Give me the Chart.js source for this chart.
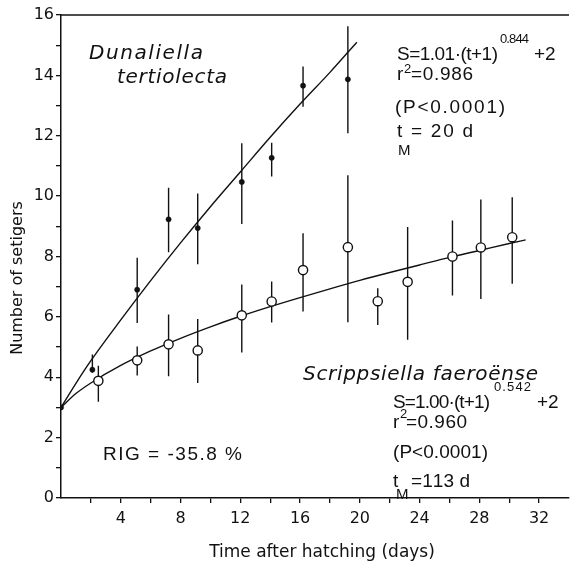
<!DOCTYPE html>
<html>
<head>
<meta charset="utf-8">
<script src="https://cdn.jsdelivr.net/npm/chart.js@4/dist/chart.umd.min.js"></script>
<style>
html,body{margin:0;padding:0;background:#fff;}
#wrap{width:575px;height:570px;}
</style>
</head>
<body>
<div id="wrap"><canvas id="c" width="575" height="570"></canvas></div>
<script>
// ---- Data ----
// Dunaliella tertiolecta (filled dots)
const dunDays  = [0, 2.1, 5.1, 7.2, 9.15, 12.1, 14.1, 16.2, 19.2];
const dunMean  = [3.0, 4.25, 6.9, 9.23, 8.94, 10.47, 11.27, 13.66, 13.87];
const dunLow   = [null, 4.15, 5.8, 8.14, 7.74, 9.08, 10.65, 12.96, 12.08];
const dunHigh  = [null, 4.75, 7.96, 10.28, 10.09, 11.75, 11.77, 14.29, 15.63];
// Scrippsiella faeroense (open circles)
const scrDays  = [2.5, 5.1, 7.2, 9.15, 12.1, 14.1, 16.2, 19.2, 21.2, 23.2, 26.2, 28.1, 30.2];
const scrMean  = [3.88, 4.56, 5.09, 4.89, 6.05, 6.51, 7.55, 8.31, 6.52, 7.16, 8.0, 8.30, 8.64];
const scrLow   = [3.19, 4.06, 4.03, 3.81, 4.82, 5.81, 6.18, 5.82, 5.73, 5.24, 6.71, 6.59, 7.1];
const scrHigh  = [4.38, 5.02, 6.08, 5.93, 7.07, 7.17, 8.77, 10.69, 6.95, 8.98, 9.19, 9.89, 9.96];
// Fitted curves
const dunFitDays = [0, 1, 2, 4, 6, 8, 10, 12, 14, 16, 18, 19.8];
const dunFitVals = [3.0, 3.8, 4.55, 5.9, 7.2, 8.45, 9.65, 10.8, 11.95, 13.05, 14.1, 15.1];
const scrFitDays = [0, 1, 2, 4, 6, 8, 10, 12, 14, 16, 18, 20, 22, 24, 26, 28, 30, 31.1];
const scrFitVals = [3.0, 3.46, 3.81, 4.39, 4.87, 5.29, 5.67, 6.02, 6.34, 6.64, 6.93, 7.21, 7.47, 7.72, 7.97, 8.2, 8.43, 8.55];
// Axis ticks
const xTickLabels = [4, 8, 12, 16, 20, 24, 28, 32];
const yTickLabels = [0, 2, 4, 6, 8, 10, 12, 14, 16];

// ---- helpers ----
function pts(xs, ys){ return xs.map((x,i)=>({x:x, y:ys[i]})); }
function errSegs(xs, lo, hi){
  const out = [];
  xs.forEach((x,i)=>{
    if (lo[i]==null || hi[i]==null) return;
    out.push({x:x, y:lo[i]}, {x:x, y:hi[i]}, {x:x, y:null});
  });
  return out;
}
function fitText(ctx, text, font, x, y, w){
  ctx.font = font;
  const chars = [...text];
  const ws = chars.map(c=>ctx.measureText(c).width);
  const tot = ws.reduce((s,v)=>s+v,0);
  const gap = (w && chars.length>1) ? (w - tot)/(chars.length-1) : 0;
  let cx = x;
  chars.forEach((c,i)=>{ ctx.fillText(c, cx, y); cx += ws[i] + gap; });
}

const EQ = '19px "Liberation Sans"';
const SUP = '13px "Liberation Sans"';
const SUB = '15px "Liberation Sans"';
const IT = 'italic 20px "DejaVu Sans"';
const texts = [
  ['Dunaliella', IT, 89, 59, 114],
  ['tertiolecta', IT, 117, 83, 110],
  ['S=1.01·(t+1)', EQ, 397, 60, 101],
  ['0.844', SUP, 500, 43, 29],
  ['+2', EQ, 534, 60, 0],
  ['r', EQ, 397, 80, 0],
  ['2', SUP, 404, 73, 0],
  ['=0.986', EQ, 411, 80, 62],
  ['(P<0.0001)', EQ, 395, 113, 110],
  ['t', EQ, 397, 137, 0],
  ['M', SUB, 398, 155, 12],
  ['= 20 d', EQ, 411, 137, 62],
  ['Scrippsiella faeroënse', IT, 303, 380, 235],
  ['S=1.00·(t+1)', EQ, 393, 408, 97],
  ['0.542', SUP, 494, 391, 37],
  ['+2', EQ, 537, 408, 0],
  ['r', EQ, 393, 428, 0],
  ['2', SUP, 400, 418, 0],
  ['=0.960', EQ, 406, 428, 61],
  ['(P<0.0001)', EQ, 393, 458, 95],
  ['t', EQ, 393, 487, 0],
  ['M', SUB, 396, 499, 14],
  ['=113 d', EQ, 411, 487, 59],
  ['RIG = -35.8 %', EQ, 103, 460, 139]
];

const annot = {
  id: 'annot',
  afterDraw(chart){
    const {ctx, chartArea:a} = chart;
    ctx.save();
    ctx.strokeStyle = '#111';
    ctx.lineWidth = 1.5;
    ctx.beginPath(); ctx.moveTo(a.left, a.top); ctx.lineTo(a.right, a.top); ctx.stroke();
    ctx.fillStyle = '#111';
    ctx.textAlign = 'left';
    ctx.textBaseline = 'alphabetic';
    texts.forEach(t=>fitText(ctx, t[0], t[1], t[2], t[3], t[4]));
    // axis titles
    ctx.textAlign = 'center';
    ctx.textBaseline = 'middle';
    ctx.font = '17px "DejaVu Sans"';
    ctx.fillText('Time after hatching (days)', 322, 553);
    ctx.save();
    ctx.translate(18, 278);
    ctx.rotate(-Math.PI/2);
    ctx.font = '16px "DejaVu Sans"';
    ctx.fillText('Number of setigers', 0, 0);
    ctx.restore();
    ctx.restore();
  }
};

const black = '#111';
new Chart(document.getElementById('c'), {
  type: 'scatter',
  data: {
    datasets: [
      { label:'Dunaliella', data: pts(dunDays, dunMean), pointRadius: 2.6, pointBackgroundColor: black,
        pointBorderColor: black, pointBorderWidth: 0.5, showLine:false, order: 1 },
      { label:'Scrippsiella', data: pts(scrDays, scrMean), pointRadius: 4.6, pointBackgroundColor: '#fff',
        pointBorderColor: black, pointBorderWidth: 1.4, showLine:false, order: 2 },
      { label:'Dun fit', data: pts(dunFitDays, dunFitVals), showLine:true, pointRadius:0, borderColor: black,
        borderWidth: 1.4, cubicInterpolationMode:'monotone', order: 3 },
      { label:'Scr fit', data: pts(scrFitDays, scrFitVals), showLine:true, pointRadius:0, borderColor: black,
        borderWidth: 1.4, cubicInterpolationMode:'monotone', order: 4 },
      { label:'Dun err', data: errSegs(dunDays, dunLow, dunHigh), showLine:true, spanGaps:false, pointRadius:0,
        borderColor: black, borderWidth: 1.4, order: 5 },
      { label:'Scr err', data: errSegs(scrDays, scrLow, scrHigh), showLine:true, spanGaps:false, pointRadius:0,
        borderColor: black, borderWidth: 1.4, order: 6 }
    ]
  },
  options: {
    responsive: false,
    animation: false,
    devicePixelRatio: 1,
    layout: { padding: { top: 15, right: 0, left: 0, bottom: 0 } },
    plugins: { legend: { display:false }, tooltip: { enabled:false } },
    scales: {
      x: {
        type:'linear', min:0, max:34,
        afterFit(s){ s.height = 72; },
        border: { display:true, color: black, width: 1.5 },
        grid: { drawOnChartArea:false, drawTicks:true, tickLength:5, lineWidth:1.3,
          color: c => (c.tick && (c.tick.value === 0 || c.tick.value === 34)) ? 'rgba(0,0,0,0)' : black },
        ticks: { stepSize: 2, autoSkip:false, maxRotation:0, padding: 6, color: black,
          font: { family:'DejaVu Sans', size:16 },
          callback: v => xTickLabels.includes(v) ? String(v) : '' }
      },
      y: {
        type:'linear', min:0, max:16,
        afterFit(s){ s.width = 61; },
        border: { display:true, color: black, width: 1.5 },
        grid: { drawOnChartArea:false, drawTicks:true, tickLength:5, lineWidth:1.3, color: black },
        ticks: { stepSize: 1, autoSkip:false, padding: 2, color: black,
          font: { family:'DejaVu Sans', size:16 },
          callback: v => yTickLabels.includes(v) ? String(v) : '' }
      }
    }
  },
  plugins: [annot]
});
</script>
</body>
</html>
